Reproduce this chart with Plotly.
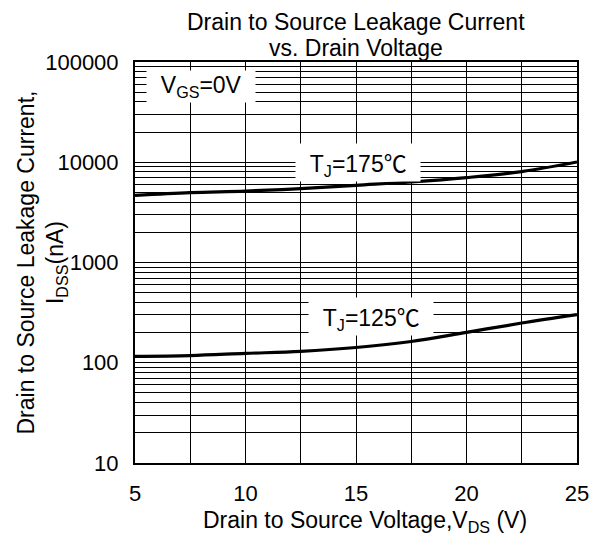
import plotly.graph_objects as go

vds = [5, 7.5, 10, 12.5, 15, 17.5, 20, 22.5, 25]
idss_175 = [4680, 4980, 5160, 5460, 5890, 6350, 7030, 8070, 10060]
idss_125 = [116, 118, 124, 130, 142, 163, 201, 249, 302]

x_grid = [5, 7.5, 10, 12.5, 15, 17.5, 20, 22.5, 25]
x_labels = ["5", "", "10", "", "15", "", "20", "", "25"]
y_grid = [m * 10 ** e for e in range(1, 5) for m in range(1, 10)] + [100000]
y_labels = [str(v) if str(v).strip("0") == "1" else "" for v in y_grid]

FONT = "Liberation Sans"
DEG = '<span style="font-family:\'Noto Sans CJK SC\'">℃</span>'
PAD = "&nbsp;&nbsp;"

fig = go.Figure()
fig.add_trace(go.Scatter(x=vds, y=idss_175, mode="lines",
                         line=dict(color="black", width=3.2, shape="spline", smoothing=1.0),
                         showlegend=False, hoverinfo="skip"))
fig.add_trace(go.Scatter(x=vds, y=idss_125, mode="lines",
                         line=dict(color="black", width=3.2, shape="spline", smoothing=1.0),
                         showlegend=False, hoverinfo="skip"))

fig.update_layout(
    width=594, height=541,
    margin=dict(l=135, r=17, t=62, b=78, autoexpand=False),
    paper_bgcolor="white", plot_bgcolor="white",
    font=dict(family=FONT, size=22, color="black"),
    showlegend=False,
)
fig.update_xaxes(range=[5, 25], tickvals=x_grid, ticktext=x_labels,
                 showgrid=True, gridcolor="black", gridwidth=1,
                 showline=True, linecolor="black", linewidth=2, mirror=True,
                 ticks="", ticklabelstandoff=10, zeroline=False, automargin=False,
                 tickfont=dict(size=22))
fig.update_yaxes(type="log", range=[1, 5], tickvals=y_grid, ticktext=y_labels,
                 showgrid=True, gridcolor="black", gridwidth=1,
                 showline=True, linecolor="black", linewidth=2, mirror=True,
                 ticks="", ticklabelstandoff=10, zeroline=False, automargin=False,
                 tickfont=dict(size=22))

fig.add_annotation(text="Drain to Source Leakage Current", xref="paper", yref="paper",
                   x=0.5, y=1, yshift=40, showarrow=False, font=dict(size=23),
                   xanchor="center", yanchor="middle")
fig.add_annotation(text="vs. Drain Voltage", xref="paper", yref="paper",
                   x=0.5, y=1, yshift=14, showarrow=False, font=dict(size=23),
                   xanchor="center", yanchor="middle")
fig.add_annotation(text="Drain to Source Leakage Current,<br>I<sub>DSS</sub>(nA)",
                   xref="paper", yref="paper", x=0, y=0.5, xshift=-93,
                   textangle=-90, showarrow=False, font=dict(size=23),
                   xanchor="center", yanchor="middle")
fig.add_annotation(text="Drain to Source Voltage,V<sub>DS</sub> (V)",
                   xref="paper", yref="paper", x=0.5, y=0, yshift=-58,
                   xshift=9, showarrow=False, font=dict(size=23),
                   xanchor="center", yanchor="middle")

fig.add_annotation(text=PAD + "V<sub>GS</sub>=0V" + PAD, x=8, y=4.76, xref="x", yref="y",
                   showarrow=False, bgcolor="white", borderpad=1, font=dict(size=23))
fig.add_annotation(text=PAD + "T<sub>J</sub>=175" + DEG + PAD, x=15.1, y=4.0, xref="x", yref="y",
                   showarrow=False, bgcolor="white", borderpad=1, font=dict(size=23))
fig.add_annotation(text=PAD + "T<sub>J</sub>=125" + DEG + PAD, x=15.7, y=2.46, xref="x", yref="y",
                   showarrow=False, bgcolor="white", borderpad=1, font=dict(size=23))

fig.write_html("out.html")
